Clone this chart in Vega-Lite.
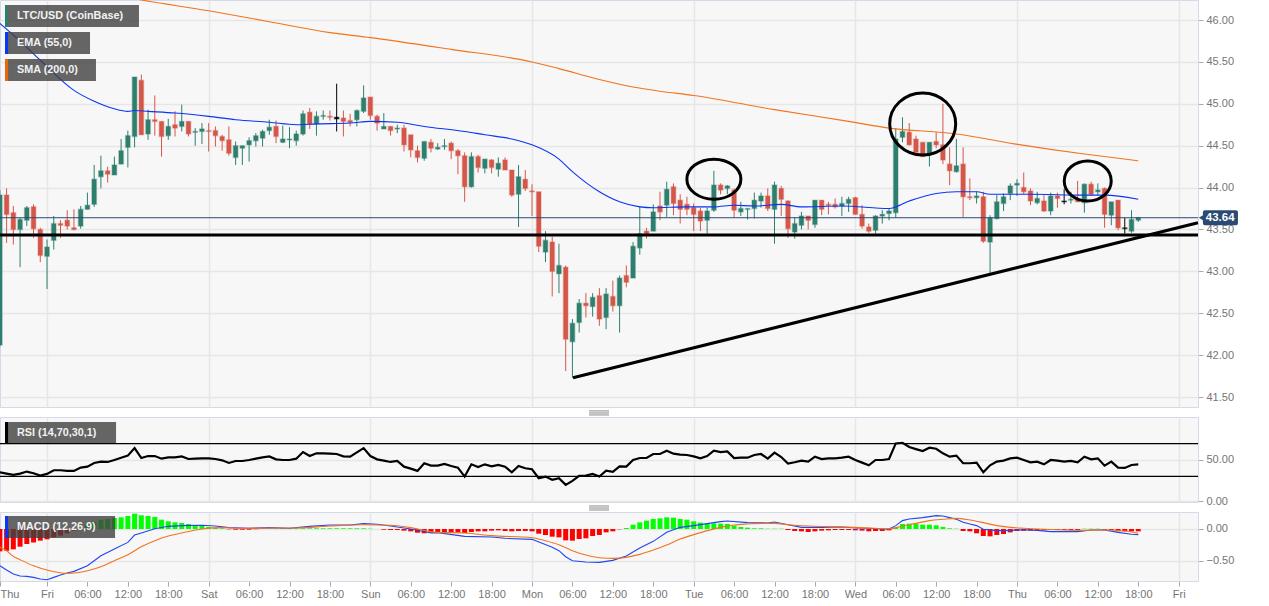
{
"$schema":"https://vega.github.io/schema/vega-lite/v6.json",
"description":"LTC/USD hourly candles with EMA, SMA, RSI and MACD panels",
"padding":{"left":-2,"top":-1,"right":0,"bottom":0},
"bounds":"flush",
"spacing":10,
"background":"white",
"config":{
"view":{"fill":"#f7f7f7","stroke":"#d5d9e8"},
"scale":{"continuousPadding":0},
"axis":{"title":null,"gridColor":"#e6e6e6","gridWidth":1.5,"tickColor":"#a8a8a8","tickSize":5,"labelPadding":3,"labelColor":"#757575","labelFont":"Liberation Sans","labelFontSize":11,"domainColor":"#d5d9e8"},
"text":{"font":"Liberation Sans"}
},
"datasets":{
"candles":[
{"t":"2018-11-15T17:00Z","o":42.12,"h":43.97,"l":42.10,"c":43.91,"d":"up","rsi":35.0,"hist":-0.353},
{"t":"2018-11-15T18:00Z","o":43.91,"h":43.99,"l":43.34,"c":43.68,"d":"down","rsi":33.4,"hist":-0.342},
{"t":"2018-11-15T19:00Z","o":43.70,"h":43.78,"l":43.32,"c":43.50,"d":"down","rsi":31.8,"hist":-0.321},
{"t":"2018-11-15T20:00Z","o":43.50,"h":43.64,"l":43.05,"c":43.62,"d":"up","rsi":33.4,"hist":-0.279},
{"t":"2018-11-15T21:00Z","o":43.61,"h":43.78,"l":43.54,"c":43.76,"d":"up","rsi":35.9,"hist":-0.237},
{"t":"2018-11-15T22:00Z","o":43.77,"h":43.80,"l":43.40,"c":43.51,"d":"down","rsi":33.8,"hist":-0.211},
{"t":"2018-11-15T23:00Z","o":43.50,"h":43.52,"l":43.11,"c":43.19,"d":"down","rsi":31.0,"hist":-0.184},
{"t":"2018-11-16T00:00Z","o":43.18,"h":43.38,"l":42.79,"c":43.29,"d":"up","rsi":33.0,"hist":-0.163},
{"t":"2018-11-16T01:00Z","o":43.37,"h":43.66,"l":43.26,"c":43.57,"d":"up","rsi":37.5,"hist":-0.132},
{"t":"2018-11-16T02:00Z","o":43.57,"h":43.61,"l":43.40,"c":43.55,"d":"down","rsi":37.5,"hist":-0.105},
{"t":"2018-11-16T03:00Z","o":43.61,"h":43.73,"l":43.50,"c":43.54,"d":"down","rsi":36.7,"hist":-0.068},
{"t":"2018-11-16T04:00Z","o":43.52,"h":43.74,"l":43.49,"c":43.50,"d":"down","rsi":36.7,"hist":-0.026},
{"t":"2018-11-16T05:00Z","o":43.54,"h":43.78,"l":43.51,"c":43.74,"d":"up","rsi":40.7,"hist":0.026},
{"t":"2018-11-16T06:00Z","o":43.74,"h":43.94,"l":43.74,"c":43.79,"d":"up","rsi":41.9,"hist":0.068},
{"t":"2018-11-16T07:00Z","o":43.80,"h":44.27,"l":43.77,"c":44.10,"d":"up","rsi":46.4,"hist":0.111},
{"t":"2018-11-16T08:00Z","o":44.13,"h":44.38,"l":43.99,"c":44.20,"d":"up","rsi":48.0,"hist":0.147},
{"t":"2018-11-16T09:00Z","o":44.20,"h":44.25,"l":44.06,"c":44.16,"d":"down","rsi":47.6,"hist":0.158},
{"t":"2018-11-16T10:00Z","o":44.15,"h":44.37,"l":44.15,"c":44.27,"d":"up","rsi":50.0,"hist":0.174},
{"t":"2018-11-16T11:00Z","o":44.28,"h":44.58,"l":44.28,"c":44.44,"d":"up","rsi":52.8,"hist":0.184},
{"t":"2018-11-16T12:00Z","o":44.48,"h":44.68,"l":44.24,"c":44.62,"d":"up","rsi":55.3,"hist":0.205},
{"t":"2018-11-16T13:00Z","o":44.61,"h":45.32,"l":44.48,"c":45.32,"d":"up","rsi":64.5,"hist":0.242},
{"t":"2018-11-16T14:00Z","o":45.28,"h":45.35,"l":44.63,"c":44.63,"d":"down","rsi":52.4,"hist":0.216},
{"t":"2018-11-16T15:00Z","o":44.64,"h":44.93,"l":44.57,"c":44.81,"d":"up","rsi":54.8,"hist":0.205},
{"t":"2018-11-16T16:00Z","o":44.81,"h":45.10,"l":44.62,"c":44.79,"d":"down","rsi":54.8,"hist":0.189},
{"t":"2018-11-16T17:00Z","o":44.79,"h":44.79,"l":44.37,"c":44.61,"d":"down","rsi":51.6,"hist":0.147},
{"t":"2018-11-16T18:00Z","o":44.62,"h":44.82,"l":44.57,"c":44.73,"d":"up","rsi":53.2,"hist":0.121},
{"t":"2018-11-16T19:00Z","o":44.75,"h":44.91,"l":44.61,"c":44.71,"d":"down","rsi":53.2,"hist":0.105},
{"t":"2018-11-16T20:00Z","o":44.73,"h":44.99,"l":44.67,"c":44.79,"d":"up","rsi":54.4,"hist":0.095},
{"t":"2018-11-16T21:00Z","o":44.79,"h":44.79,"l":44.61,"c":44.64,"d":"down","rsi":51.2,"hist":0.079},
{"t":"2018-11-16T22:00Z","o":44.66,"h":44.71,"l":44.50,"c":44.67,"d":"up","rsi":51.6,"hist":0.058},
{"t":"2018-11-16T23:00Z","o":44.67,"h":44.77,"l":44.52,"c":44.70,"d":"up","rsi":52.0,"hist":0.047},
{"t":"2018-11-17T00:00Z","o":44.68,"h":44.77,"l":44.43,"c":44.67,"d":"down","rsi":52.0,"hist":0.032},
{"t":"2018-11-17T01:00Z","o":44.68,"h":44.73,"l":44.49,"c":44.62,"d":"down","rsi":51.2,"hist":0.016},
{"t":"2018-11-17T02:00Z","o":44.61,"h":44.63,"l":44.44,"c":44.56,"d":"down","rsi":49.6,"hist":0.011},
{"t":"2018-11-17T03:00Z","o":44.57,"h":44.73,"l":44.38,"c":44.41,"d":"down","rsi":46.4,"hist":-0.005},
{"t":"2018-11-17T04:00Z","o":44.36,"h":44.55,"l":44.27,"c":44.50,"d":"up","rsi":48.8,"hist":-0.011},
{"t":"2018-11-17T05:00Z","o":44.47,"h":44.50,"l":44.27,"c":44.50,"d":"up","rsi":48.8,"hist":-0.011},
{"t":"2018-11-17T06:00Z","o":44.51,"h":44.60,"l":44.31,"c":44.56,"d":"up","rsi":50.0,"hist":-0.011},
{"t":"2018-11-17T07:00Z","o":44.56,"h":44.65,"l":44.49,"c":44.62,"d":"up","rsi":51.6,"hist":-0.005},
{"t":"2018-11-17T08:00Z","o":44.59,"h":44.69,"l":44.49,"c":44.67,"d":"up","rsi":53.2,"hist":0.005},
{"t":"2018-11-17T09:00Z","o":44.68,"h":44.81,"l":44.63,"c":44.72,"d":"up","rsi":54.4,"hist":0.005},
{"t":"2018-11-17T10:00Z","o":44.73,"h":44.80,"l":44.53,"c":44.61,"d":"down","rsi":50.8,"hist":0.005},
{"t":"2018-11-17T11:00Z","o":44.54,"h":44.74,"l":44.53,"c":44.58,"d":"up","rsi":50.0,"hist":0.011},
{"t":"2018-11-17T12:00Z","o":44.57,"h":44.72,"l":44.47,"c":44.58,"d":"up","rsi":50.0,"hist":0.011},
{"t":"2018-11-17T13:00Z","o":44.56,"h":44.68,"l":44.50,"c":44.64,"d":"up","rsi":51.6,"hist":0.011},
{"t":"2018-11-17T14:00Z","o":44.64,"h":44.92,"l":44.62,"c":44.88,"d":"up","rsi":59.7,"hist":0.011},
{"t":"2018-11-17T15:00Z","o":44.90,"h":44.95,"l":44.70,"c":44.76,"d":"down","rsi":54.8,"hist":0.011},
{"t":"2018-11-17T16:00Z","o":44.76,"h":44.91,"l":44.62,"c":44.85,"d":"up","rsi":58.1,"hist":0.011},
{"t":"2018-11-17T17:00Z","o":44.85,"h":44.92,"l":44.81,"c":44.86,"d":"up","rsi":58.1,"hist":0.011},
{"t":"2018-11-17T18:00Z","o":44.85,"h":44.92,"l":44.80,"c":44.84,"d":"down","rsi":57.7,"hist":0.011},
{"t":"2018-11-17T19:00Z","o":44.84,"h":45.24,"l":44.67,"c":44.82,"d":"doji","rsi":57.3,"hist":0.011},
{"t":"2018-11-17T20:00Z","o":44.83,"h":44.92,"l":44.61,"c":44.79,"d":"down","rsi":54.4,"hist":0.011},
{"t":"2018-11-17T21:00Z","o":44.80,"h":44.88,"l":44.73,"c":44.78,"d":"down","rsi":54.0,"hist":0.011},
{"t":"2018-11-17T22:00Z","o":44.81,"h":44.93,"l":44.73,"c":44.92,"d":"up","rsi":59.3,"hist":0.011},
{"t":"2018-11-17T23:00Z","o":44.91,"h":45.22,"l":44.89,"c":45.07,"d":"up","rsi":64.5,"hist":0.011},
{"t":"2018-11-18T00:00Z","o":45.08,"h":45.08,"l":44.81,"c":44.86,"d":"down","rsi":54.8,"hist":0.005},
{"t":"2018-11-18T01:00Z","o":44.85,"h":44.87,"l":44.68,"c":44.77,"d":"down","rsi":50.8,"hist":0.0},
{"t":"2018-11-18T02:00Z","o":44.70,"h":44.89,"l":44.70,"c":44.73,"d":"up","rsi":49.2,"hist":-0.011},
{"t":"2018-11-18T03:00Z","o":44.73,"h":44.73,"l":44.62,"c":44.68,"d":"down","rsi":47.6,"hist":-0.016},
{"t":"2018-11-18T04:00Z","o":44.70,"h":44.75,"l":44.65,"c":44.71,"d":"up","rsi":48.8,"hist":-0.016},
{"t":"2018-11-18T05:00Z","o":44.71,"h":44.75,"l":44.43,"c":44.51,"d":"down","rsi":41.9,"hist":-0.026},
{"t":"2018-11-18T06:00Z","o":44.63,"h":44.63,"l":44.36,"c":44.45,"d":"down","rsi":39.5,"hist":-0.037},
{"t":"2018-11-18T07:00Z","o":44.44,"h":44.50,"l":44.30,"c":44.36,"d":"down","rsi":36.7,"hist":-0.058},
{"t":"2018-11-18T08:00Z","o":44.35,"h":44.55,"l":44.32,"c":44.55,"d":"up","rsi":46.0,"hist":-0.068},
{"t":"2018-11-18T09:00Z","o":44.54,"h":44.58,"l":44.42,"c":44.47,"d":"down","rsi":43.1,"hist":-0.058},
{"t":"2018-11-18T10:00Z","o":44.46,"h":44.53,"l":44.45,"c":44.48,"d":"up","rsi":43.1,"hist":-0.047},
{"t":"2018-11-18T11:00Z","o":44.49,"h":44.58,"l":44.45,"c":44.50,"d":"up","rsi":45.2,"hist":-0.047},
{"t":"2018-11-18T12:00Z","o":44.53,"h":44.55,"l":44.34,"c":44.44,"d":"down","rsi":42.7,"hist":-0.053},
{"t":"2018-11-18T13:00Z","o":44.44,"h":44.46,"l":44.16,"c":44.38,"d":"down","rsi":40.7,"hist":-0.053},
{"t":"2018-11-18T14:00Z","o":44.38,"h":44.42,"l":43.83,"c":44.01,"d":"down","rsi":29.8,"hist":-0.063},
{"t":"2018-11-18T15:00Z","o":44.01,"h":44.42,"l":44.00,"c":44.37,"d":"up","rsi":44.7,"hist":-0.047},
{"t":"2018-11-18T16:00Z","o":44.37,"h":44.39,"l":44.18,"c":44.24,"d":"down","rsi":41.5,"hist":-0.037},
{"t":"2018-11-18T17:00Z","o":44.23,"h":44.34,"l":44.17,"c":44.34,"d":"up","rsi":44.7,"hist":-0.037},
{"t":"2018-11-18T18:00Z","o":44.33,"h":44.34,"l":44.17,"c":44.24,"d":"down","rsi":42.3,"hist":-0.026},
{"t":"2018-11-18T19:00Z","o":44.22,"h":44.36,"l":44.13,"c":44.29,"d":"up","rsi":43.9,"hist":-0.021},
{"t":"2018-11-18T20:00Z","o":44.33,"h":44.36,"l":44.21,"c":44.21,"d":"down","rsi":41.9,"hist":-0.032},
{"t":"2018-11-18T21:00Z","o":44.21,"h":44.21,"l":43.89,"c":43.91,"d":"down","rsi":35.0,"hist":-0.037},
{"t":"2018-11-18T22:00Z","o":43.92,"h":44.27,"l":43.53,"c":44.13,"d":"up","rsi":42.7,"hist":-0.032},
{"t":"2018-11-18T23:00Z","o":44.10,"h":44.21,"l":43.96,"c":43.99,"d":"down","rsi":39.9,"hist":-0.032},
{"t":"2018-11-19T00:00Z","o":43.96,"h":44.04,"l":43.66,"c":43.95,"d":"down","rsi":38.7,"hist":-0.037},
{"t":"2018-11-19T01:00Z","o":43.95,"h":43.95,"l":43.23,"c":43.30,"d":"down","rsi":27.8,"hist":-0.074},
{"t":"2018-11-19T02:00Z","o":43.23,"h":43.48,"l":43.11,"c":43.37,"d":"up","rsi":29.8,"hist":-0.095},
{"t":"2018-11-19T03:00Z","o":43.35,"h":43.41,"l":42.70,"c":43.00,"d":"down","rsi":25.8,"hist":-0.121},
{"t":"2018-11-19T04:00Z","o":42.97,"h":43.33,"l":42.74,"c":43.07,"d":"up","rsi":27.8,"hist":-0.132},
{"t":"2018-11-19T05:00Z","o":43.05,"h":43.07,"l":41.81,"c":42.19,"d":"down","rsi":19.7,"hist":-0.179},
{"t":"2018-11-19T06:00Z","o":42.16,"h":42.43,"l":41.73,"c":42.38,"d":"up","rsi":24.5,"hist":-0.184},
{"t":"2018-11-19T07:00Z","o":42.39,"h":42.67,"l":42.27,"c":42.62,"d":"up","rsi":30.6,"hist":-0.158},
{"t":"2018-11-19T08:00Z","o":42.62,"h":42.74,"l":42.45,"c":42.59,"d":"down","rsi":31.0,"hist":-0.147},
{"t":"2018-11-19T09:00Z","o":42.58,"h":42.74,"l":42.46,"c":42.69,"d":"up","rsi":33.0,"hist":-0.111},
{"t":"2018-11-19T10:00Z","o":42.71,"h":42.80,"l":42.35,"c":42.43,"d":"down","rsi":29.8,"hist":-0.095},
{"t":"2018-11-19T11:00Z","o":42.45,"h":42.80,"l":42.31,"c":42.73,"d":"up","rsi":37.1,"hist":-0.053},
{"t":"2018-11-19T12:00Z","o":42.70,"h":42.89,"l":42.52,"c":42.59,"d":"down","rsi":35.5,"hist":-0.037},
{"t":"2018-11-19T13:00Z","o":42.59,"h":42.95,"l":42.27,"c":42.92,"d":"up","rsi":42.3,"hist":-0.005},
{"t":"2018-11-19T14:00Z","o":42.95,"h":43.07,"l":42.81,"c":42.87,"d":"down","rsi":41.9,"hist":0.016},
{"t":"2018-11-19T15:00Z","o":42.92,"h":43.35,"l":42.92,"c":43.30,"d":"up","rsi":50.0,"hist":0.068},
{"t":"2018-11-19T16:00Z","o":43.28,"h":43.78,"l":43.20,"c":43.45,"d":"up","rsi":52.4,"hist":0.105},
{"t":"2018-11-19T17:00Z","o":43.48,"h":43.52,"l":43.39,"c":43.45,"d":"down","rsi":52.4,"hist":0.132},
{"t":"2018-11-19T18:00Z","o":43.48,"h":43.80,"l":43.48,"c":43.71,"d":"up","rsi":57.3,"hist":0.158},
{"t":"2018-11-19T19:00Z","o":43.78,"h":43.95,"l":43.61,"c":43.71,"d":"down","rsi":57.3,"hist":0.168},
{"t":"2018-11-19T20:00Z","o":43.79,"h":44.07,"l":43.65,"c":43.98,"d":"up","rsi":61.3,"hist":0.184},
{"t":"2018-11-19T21:00Z","o":44.01,"h":44.05,"l":43.67,"c":43.81,"d":"down","rsi":57.7,"hist":0.179},
{"t":"2018-11-19T22:00Z","o":43.85,"h":43.92,"l":43.57,"c":43.74,"d":"down","rsi":56.5,"hist":0.158},
{"t":"2018-11-19T23:00Z","o":43.80,"h":43.89,"l":43.67,"c":43.74,"d":"down","rsi":56.1,"hist":0.147},
{"t":"2018-11-20T00:00Z","o":43.76,"h":43.81,"l":43.48,"c":43.68,"d":"down","rsi":54.4,"hist":0.121},
{"t":"2018-11-20T01:00Z","o":43.72,"h":43.76,"l":43.48,"c":43.60,"d":"down","rsi":52.0,"hist":0.100},
{"t":"2018-11-20T02:00Z","o":43.61,"h":43.76,"l":43.45,"c":43.72,"d":"up","rsi":54.8,"hist":0.084},
{"t":"2018-11-20T03:00Z","o":43.73,"h":44.20,"l":43.71,"c":44.03,"d":"up","rsi":61.3,"hist":0.089},
{"t":"2018-11-20T04:00Z","o":44.03,"h":44.05,"l":43.92,"c":43.97,"d":"down","rsi":59.7,"hist":0.084},
{"t":"2018-11-20T05:00Z","o":43.99,"h":44.03,"l":43.92,"c":44.02,"d":"up","rsi":60.5,"hist":0.079},
{"t":"2018-11-20T06:00Z","o":43.97,"h":43.99,"l":43.64,"c":43.73,"d":"down","rsi":52.4,"hist":0.053},
{"t":"2018-11-20T07:00Z","o":43.71,"h":43.83,"l":43.66,"c":43.75,"d":"up","rsi":52.8,"hist":0.032},
{"t":"2018-11-20T08:00Z","o":43.74,"h":43.75,"l":43.62,"c":43.75,"d":"up","rsi":52.8,"hist":0.021},
{"t":"2018-11-20T09:00Z","o":43.75,"h":43.94,"l":43.63,"c":43.85,"d":"up","rsi":56.1,"hist":0.011},
{"t":"2018-11-20T10:00Z","o":43.84,"h":43.94,"l":43.76,"c":43.90,"d":"up","rsi":57.3,"hist":0.011},
{"t":"2018-11-20T11:00Z","o":43.90,"h":43.99,"l":43.72,"c":43.75,"d":"down","rsi":51.6,"hist":0.005},
{"t":"2018-11-20T12:00Z","o":43.74,"h":44.07,"l":43.33,"c":44.03,"d":"up","rsi":58.9,"hist":0.005},
{"t":"2018-11-20T13:00Z","o":43.99,"h":44.02,"l":43.66,"c":43.86,"d":"down","rsi":53.6,"hist":0.005},
{"t":"2018-11-20T14:00Z","o":43.84,"h":43.85,"l":43.40,"c":43.51,"d":"down","rsi":45.6,"hist":-0.016},
{"t":"2018-11-20T15:00Z","o":43.47,"h":43.65,"l":43.39,"c":43.57,"d":"up","rsi":47.2,"hist":-0.032},
{"t":"2018-11-20T16:00Z","o":43.55,"h":43.71,"l":43.50,"c":43.66,"d":"up","rsi":49.2,"hist":-0.037},
{"t":"2018-11-20T17:00Z","o":43.66,"h":43.66,"l":43.50,"c":43.61,"d":"down","rsi":48.0,"hist":-0.047},
{"t":"2018-11-20T18:00Z","o":43.56,"h":43.85,"l":43.52,"c":43.85,"d":"up","rsi":54.0,"hist":-0.037},
{"t":"2018-11-20T19:00Z","o":43.85,"h":43.85,"l":43.67,"c":43.74,"d":"down","rsi":51.2,"hist":-0.026},
{"t":"2018-11-20T20:00Z","o":43.80,"h":43.83,"l":43.68,"c":43.79,"d":"down","rsi":52.0,"hist":-0.021},
{"t":"2018-11-20T21:00Z","o":43.80,"h":43.87,"l":43.75,"c":43.77,"d":"down","rsi":52.0,"hist":-0.016},
{"t":"2018-11-20T22:00Z","o":43.78,"h":43.89,"l":43.66,"c":43.81,"d":"up","rsi":52.8,"hist":-0.016},
{"t":"2018-11-20T23:00Z","o":43.81,"h":43.89,"l":43.71,"c":43.86,"d":"up","rsi":54.0,"hist":-0.016},
{"t":"2018-11-21T00:00Z","o":43.88,"h":43.89,"l":43.68,"c":43.68,"d":"down","rsi":50.0,"hist":-0.021},
{"t":"2018-11-21T01:00Z","o":43.68,"h":43.79,"l":43.51,"c":43.54,"d":"down","rsi":46.8,"hist":-0.026},
{"t":"2018-11-21T02:00Z","o":43.53,"h":43.57,"l":43.46,"c":43.48,"d":"down","rsi":43.5,"hist":-0.037},
{"t":"2018-11-21T03:00Z","o":43.49,"h":43.67,"l":43.45,"c":43.66,"d":"up","rsi":50.0,"hist":-0.032},
{"t":"2018-11-21T04:00Z","o":43.66,"h":43.73,"l":43.57,"c":43.68,"d":"up","rsi":50.0,"hist":-0.032},
{"t":"2018-11-21T05:00Z","o":43.69,"h":43.75,"l":43.61,"c":43.72,"d":"up","rsi":51.2,"hist":-0.021},
{"t":"2018-11-21T06:00Z","o":43.70,"h":44.71,"l":43.64,"c":44.58,"d":"up","rsi":70.2,"hist":0.026},
{"t":"2018-11-21T07:00Z","o":44.60,"h":44.84,"l":44.54,"c":44.67,"d":"up","rsi":71.0,"hist":0.079},
{"t":"2018-11-21T08:00Z","o":44.66,"h":44.77,"l":44.50,"c":44.51,"d":"down","rsi":65.8,"hist":0.084},
{"t":"2018-11-21T09:00Z","o":44.58,"h":44.62,"l":44.42,"c":44.42,"d":"down","rsi":63.3,"hist":0.084},
{"t":"2018-11-21T10:00Z","o":44.54,"h":44.54,"l":44.37,"c":44.37,"d":"down","rsi":60.9,"hist":0.068},
{"t":"2018-11-21T11:00Z","o":44.40,"h":44.54,"l":44.25,"c":44.54,"d":"up","rsi":65.0,"hist":0.068},
{"t":"2018-11-21T12:00Z","o":44.55,"h":44.66,"l":44.47,"c":44.51,"d":"down","rsi":63.7,"hist":0.058},
{"t":"2018-11-21T13:00Z","o":44.51,"h":45.00,"l":44.28,"c":44.33,"d":"down","rsi":58.1,"hist":0.032},
{"t":"2018-11-21T14:00Z","o":44.28,"h":44.48,"l":44.03,"c":44.20,"d":"down","rsi":54.0,"hist":0.011},
{"t":"2018-11-21T15:00Z","o":44.19,"h":44.58,"l":44.18,"c":44.26,"d":"up","rsi":55.3,"hist":0.005},
{"t":"2018-11-21T16:00Z","o":44.28,"h":44.48,"l":43.65,"c":43.89,"d":"down","rsi":46.0,"hist":-0.032},
{"t":"2018-11-21T17:00Z","o":43.89,"h":44.11,"l":43.85,"c":43.88,"d":"down","rsi":46.0,"hist":-0.037},
{"t":"2018-11-21T18:00Z","o":43.88,"h":43.95,"l":43.81,"c":43.90,"d":"up","rsi":46.8,"hist":-0.068},
{"t":"2018-11-21T19:00Z","o":43.89,"h":43.95,"l":43.34,"c":43.36,"d":"down","rsi":35.0,"hist":-0.111},
{"t":"2018-11-21T20:00Z","o":43.35,"h":43.67,"l":42.98,"c":43.64,"d":"up","rsi":43.5,"hist":-0.116},
{"t":"2018-11-21T21:00Z","o":43.63,"h":43.91,"l":43.62,"c":43.83,"d":"up","rsi":48.0,"hist":-0.095},
{"t":"2018-11-21T22:00Z","o":43.81,"h":43.93,"l":43.72,"c":43.89,"d":"up","rsi":49.2,"hist":-0.079},
{"t":"2018-11-21T23:00Z","o":43.93,"h":44.05,"l":43.85,"c":44.02,"d":"up","rsi":52.0,"hist":-0.053},
{"t":"2018-11-22T00:00Z","o":44.03,"h":44.10,"l":43.90,"c":44.05,"d":"up","rsi":52.8,"hist":-0.032},
{"t":"2018-11-22T01:00Z","o":44.00,"h":44.18,"l":43.92,"c":43.95,"d":"down","rsi":50.0,"hist":-0.026},
{"t":"2018-11-22T02:00Z","o":43.96,"h":43.99,"l":43.79,"c":43.84,"d":"down","rsi":47.2,"hist":-0.026},
{"t":"2018-11-22T03:00Z","o":43.82,"h":43.95,"l":43.80,"c":43.87,"d":"up","rsi":48.0,"hist":-0.026},
{"t":"2018-11-22T04:00Z","o":43.84,"h":43.91,"l":43.71,"c":43.72,"d":"down","rsi":44.7,"hist":-0.021},
{"t":"2018-11-22T05:00Z","o":43.72,"h":43.94,"l":43.67,"c":43.90,"d":"up","rsi":50.0,"hist":-0.016},
{"t":"2018-11-22T06:00Z","o":43.90,"h":43.94,"l":43.76,"c":43.87,"d":"down","rsi":49.2,"hist":-0.016},
{"t":"2018-11-22T07:00Z","o":43.84,"h":43.98,"l":43.80,"c":43.83,"d":"doji","rsi":48.0,"hist":-0.016},
{"t":"2018-11-22T08:00Z","o":43.85,"h":43.95,"l":43.81,"c":43.86,"d":"up","rsi":48.8,"hist":-0.016},
{"t":"2018-11-22T09:00Z","o":43.86,"h":44.08,"l":43.83,"c":43.83,"d":"down","rsi":47.2,"hist":-0.016},
{"t":"2018-11-22T10:00Z","o":43.82,"h":44.05,"l":43.70,"c":44.04,"d":"up","rsi":54.0,"hist":0.005},
{"t":"2018-11-22T11:00Z","o":44.04,"h":44.07,"l":43.90,"c":43.92,"d":"down","rsi":50.8,"hist":0.005},
{"t":"2018-11-22T12:00Z","o":43.95,"h":44.05,"l":43.91,"c":43.97,"d":"up","rsi":52.0,"hist":0.005},
{"t":"2018-11-22T13:00Z","o":43.99,"h":44.00,"l":43.52,"c":43.68,"d":"down","rsi":43.1,"hist":-0.011},
{"t":"2018-11-22T14:00Z","o":43.67,"h":43.83,"l":43.55,"c":43.83,"d":"up","rsi":48.0,"hist":-0.016},
{"t":"2018-11-22T15:00Z","o":43.85,"h":43.85,"l":43.49,"c":43.52,"d":"down","rsi":40.7,"hist":-0.037},
{"t":"2018-11-22T16:00Z","o":43.52,"h":43.64,"l":43.45,"c":43.51,"d":"doji","rsi":40.3,"hist":-0.037},
{"t":"2018-11-22T17:00Z","o":43.48,"h":43.73,"l":43.46,"c":43.62,"d":"up","rsi":43.9,"hist":-0.037},
{"t":"2018-11-22T18:00Z","o":43.61,"h":43.65,"l":43.59,"c":43.64,"d":"up","rsi":44.7,"hist":-0.037}
],
"averages":[
{"t":"2018-11-15T17:00Z","series":"EMA","v":45.96},{"t":"2018-11-15T20:00Z","series":"EMA","v":45.75},{"t":"2018-11-15T23:00Z","series":"EMA","v":45.52},{"t":"2018-11-16T04:00Z","series":"EMA","v":45.16},{"t":"2018-11-16T07:00Z","series":"EMA","v":45.03},{"t":"2018-11-16T10:00Z","series":"EMA","v":44.94},{"t":"2018-11-16T12:00Z","series":"EMA","v":44.91},{"t":"2018-11-16T13:00Z","series":"EMA","v":44.92},{"t":"2018-11-16T15:00Z","series":"EMA","v":44.91},{"t":"2018-11-16T19:00Z","series":"EMA","v":44.89},{"t":"2018-11-17T00:00Z","series":"EMA","v":44.85},{"t":"2018-11-17T04:00Z","series":"EMA","v":44.81},{"t":"2018-11-17T09:00Z","series":"EMA","v":44.78},{"t":"2018-11-17T13:00Z","series":"EMA","v":44.75},{"t":"2018-11-17T16:00Z","series":"EMA","v":44.76},{"t":"2018-11-17T21:00Z","series":"EMA","v":44.77},{"t":"2018-11-18T00:00Z","series":"EMA","v":44.79},{"t":"2018-11-18T04:00Z","series":"EMA","v":44.78},{"t":"2018-11-18T08:00Z","series":"EMA","v":44.73},{"t":"2018-11-18T14:00Z","series":"EMA","v":44.67},{"t":"2018-11-18T17:00Z","series":"EMA","v":44.63},{"t":"2018-11-18T21:00Z","series":"EMA","v":44.58},{"t":"2018-11-19T00:00Z","series":"EMA","v":44.51},{"t":"2018-11-19T04:00Z","series":"EMA","v":44.34},{"t":"2018-11-19T06:00Z","series":"EMA","v":44.19},{"t":"2018-11-19T10:00Z","series":"EMA","v":43.95},{"t":"2018-11-19T13:00Z","series":"EMA","v":43.83},{"t":"2018-11-19T16:00Z","series":"EMA","v":43.77},{"t":"2018-11-19T18:00Z","series":"EMA","v":43.76},{"t":"2018-11-19T23:00Z","series":"EMA","v":43.77},{"t":"2018-11-20T03:00Z","series":"EMA","v":43.77},{"t":"2018-11-20T06:00Z","series":"EMA","v":43.79},{"t":"2018-11-20T09:00Z","series":"EMA","v":43.78},{"t":"2018-11-20T13:00Z","series":"EMA","v":43.80},{"t":"2018-11-20T16:00Z","series":"EMA","v":43.77},{"t":"2018-11-20T22:00Z","series":"EMA","v":43.78},{"t":"2018-11-21T05:00Z","series":"EMA","v":43.75},{"t":"2018-11-21T08:00Z","series":"EMA","v":43.84},{"t":"2018-11-21T12:00Z","series":"EMA","v":43.93},{"t":"2018-11-21T15:00Z","series":"EMA","v":43.95},{"t":"2018-11-21T18:00Z","series":"EMA","v":43.95},{"t":"2018-11-21T20:00Z","series":"EMA","v":43.92},{"t":"2018-11-22T02:00Z","series":"EMA","v":43.92},{"t":"2018-11-22T10:00Z","series":"EMA","v":43.91},{"t":"2018-11-22T13:00Z","series":"EMA","v":43.91},{"t":"2018-11-22T18:00Z","series":"EMA","v":43.86},
{"t":"2018-11-16T10:00Z","series":"SMA","v":46.30},{"t":"2018-11-16T14:00Z","series":"SMA","v":46.24},{"t":"2018-11-17T00:00Z","series":"SMA","v":46.11},{"t":"2018-11-17T09:00Z","series":"SMA","v":45.98},{"t":"2018-11-17T18:00Z","series":"SMA","v":45.85},{"t":"2018-11-18T00:00Z","series":"SMA","v":45.79},{"t":"2018-11-18T12:00Z","series":"SMA","v":45.65},{"t":"2018-11-19T00:00Z","series":"SMA","v":45.50},{"t":"2018-11-19T04:00Z","series":"SMA","v":45.42},{"t":"2018-11-19T10:00Z","series":"SMA","v":45.29},{"t":"2018-11-19T15:00Z","series":"SMA","v":45.20},{"t":"2018-11-19T19:00Z","series":"SMA","v":45.15},{"t":"2018-11-20T00:00Z","series":"SMA","v":45.10},{"t":"2018-11-20T12:00Z","series":"SMA","v":44.93},{"t":"2018-11-20T23:00Z","series":"SMA","v":44.79},{"t":"2018-11-21T05:00Z","series":"SMA","v":44.71},{"t":"2018-11-21T15:00Z","series":"SMA","v":44.64},{"t":"2018-11-21T23:00Z","series":"SMA","v":44.53},{"t":"2018-11-22T10:00Z","series":"SMA","v":44.40},{"t":"2018-11-22T18:00Z","series":"SMA","v":44.32}
],
"macdLines":[
{"t":"2018-11-15T17:00Z","series":"MACD","v":-0.579},{"t":"2018-11-15T18:00Z","series":"MACD","v":-0.647},{"t":"2018-11-15T19:00Z","series":"MACD","v":-0.711},{"t":"2018-11-15T20:00Z","series":"MACD","v":-0.742},{"t":"2018-11-15T21:00Z","series":"MACD","v":-0.747},{"t":"2018-11-15T22:00Z","series":"MACD","v":-0.763},{"t":"2018-11-15T23:00Z","series":"MACD","v":-0.789},{"t":"2018-11-16T00:00Z","series":"MACD","v":-0.8},{"t":"2018-11-16T01:00Z","series":"MACD","v":-0.763},{"t":"2018-11-16T02:00Z","series":"MACD","v":-0.726},{"t":"2018-11-16T03:00Z","series":"MACD","v":-0.695},{"t":"2018-11-16T04:00Z","series":"MACD","v":-0.668},{"t":"2018-11-16T06:00Z","series":"MACD","v":-0.579},{"t":"2018-11-16T07:00Z","series":"MACD","v":-0.5},{"t":"2018-11-16T08:00Z","series":"MACD","v":-0.421},{"t":"2018-11-16T10:00Z","series":"MACD","v":-0.316},{"t":"2018-11-16T12:00Z","series":"MACD","v":-0.211},{"t":"2018-11-16T13:00Z","series":"MACD","v":-0.095},{"t":"2018-11-16T14:00Z","series":"MACD","v":-0.063},{"t":"2018-11-16T16:00Z","series":"MACD","v":0.005},{"t":"2018-11-16T18:00Z","series":"MACD","v":0.042},{"t":"2018-11-16T20:00Z","series":"MACD","v":0.053},{"t":"2018-11-16T23:00Z","series":"MACD","v":0.058},{"t":"2018-11-17T01:00Z","series":"MACD","v":0.047},{"t":"2018-11-17T03:00Z","series":"MACD","v":0.021},{"t":"2018-11-17T06:00Z","series":"MACD","v":0.011},{"t":"2018-11-17T09:00Z","series":"MACD","v":0.021},{"t":"2018-11-17T12:00Z","series":"MACD","v":0.011},{"t":"2018-11-17T15:00Z","series":"MACD","v":0.042},{"t":"2018-11-17T18:00Z","series":"MACD","v":0.063},{"t":"2018-11-17T21:00Z","series":"MACD","v":0.063},{"t":"2018-11-17T23:00Z","series":"MACD","v":0.084},{"t":"2018-11-18T01:00Z","series":"MACD","v":0.074},{"t":"2018-11-18T03:00Z","series":"MACD","v":0.047},{"t":"2018-11-18T06:00Z","series":"MACD","v":0.0},{"t":"2018-11-18T09:00Z","series":"MACD","v":-0.063},{"t":"2018-11-18T10:00Z","series":"MACD","v":-0.058},{"t":"2018-11-18T14:00Z","series":"MACD","v":-0.116},{"t":"2018-11-18T18:00Z","series":"MACD","v":-0.126},{"t":"2018-11-18T20:00Z","series":"MACD","v":-0.147},{"t":"2018-11-19T00:00Z","series":"MACD","v":-0.163},{"t":"2018-11-19T03:00Z","series":"MACD","v":-0.289},{"t":"2018-11-19T04:00Z","series":"MACD","v":-0.342},{"t":"2018-11-19T05:00Z","series":"MACD","v":-0.437},{"t":"2018-11-19T06:00Z","series":"MACD","v":-0.5},{"t":"2018-11-19T08:00Z","series":"MACD","v":-0.521},{"t":"2018-11-19T10:00Z","series":"MACD","v":-0.526},{"t":"2018-11-19T12:00Z","series":"MACD","v":-0.495},{"t":"2018-11-19T14:00Z","series":"MACD","v":-0.426},{"t":"2018-11-19T16:00Z","series":"MACD","v":-0.3},{"t":"2018-11-19T18:00Z","series":"MACD","v":-0.195},{"t":"2018-11-19T20:00Z","series":"MACD","v":-0.053},{"t":"2018-11-19T22:00Z","series":"MACD","v":0.026},{"t":"2018-11-20T00:00Z","series":"MACD","v":0.053},{"t":"2018-11-20T02:00Z","series":"MACD","v":0.084},{"t":"2018-11-20T04:00Z","series":"MACD","v":0.116},{"t":"2018-11-20T05:00Z","series":"MACD","v":0.126},{"t":"2018-11-20T08:00Z","series":"MACD","v":0.1},{"t":"2018-11-20T11:00Z","series":"MACD","v":0.095},{"t":"2018-11-20T12:00Z","series":"MACD","v":0.111},{"t":"2018-11-20T14:00Z","series":"MACD","v":0.068},{"t":"2018-11-20T16:00Z","series":"MACD","v":0.026},{"t":"2018-11-20T19:00Z","series":"MACD","v":0.026},{"t":"2018-11-20T22:00Z","series":"MACD","v":0.032},{"t":"2018-11-21T00:00Z","series":"MACD","v":0.016},{"t":"2018-11-21T02:00Z","series":"MACD","v":0.011},{"t":"2018-11-21T04:00Z","series":"MACD","v":0.0},{"t":"2018-11-21T05:00Z","series":"MACD","v":0.0},{"t":"2018-11-21T06:00Z","series":"MACD","v":0.053},{"t":"2018-11-21T07:00Z","series":"MACD","v":0.132},{"t":"2018-11-21T08:00Z","series":"MACD","v":0.158},{"t":"2018-11-21T10:00Z","series":"MACD","v":0.179},{"t":"2018-11-21T12:00Z","series":"MACD","v":0.211},{"t":"2018-11-21T13:00Z","series":"MACD","v":0.205},{"t":"2018-11-21T14:00Z","series":"MACD","v":0.179},{"t":"2018-11-21T15:00Z","series":"MACD","v":0.153},{"t":"2018-11-21T16:00Z","series":"MACD","v":0.105},{"t":"2018-11-21T17:00Z","series":"MACD","v":0.079},{"t":"2018-11-21T18:00Z","series":"MACD","v":0.053},{"t":"2018-11-21T19:00Z","series":"MACD","v":-0.005},{"t":"2018-11-21T21:00Z","series":"MACD","v":-0.026},{"t":"2018-11-21T23:00Z","series":"MACD","v":-0.021},{"t":"2018-11-22T01:00Z","series":"MACD","v":-0.011},{"t":"2018-11-22T03:00Z","series":"MACD","v":-0.021},{"t":"2018-11-22T05:00Z","series":"MACD","v":-0.042},{"t":"2018-11-22T09:00Z","series":"MACD","v":-0.042},{"t":"2018-11-22T11:00Z","series":"MACD","v":-0.016},{"t":"2018-11-22T13:00Z","series":"MACD","v":-0.016},{"t":"2018-11-22T15:00Z","series":"MACD","v":-0.053},{"t":"2018-11-22T17:00Z","series":"MACD","v":-0.084},{"t":"2018-11-22T18:00Z","series":"MACD","v":-0.089},
{"t":"2018-11-15T17:00Z","series":"Signal","v":-0.289},{"t":"2018-11-15T18:00Z","series":"Signal","v":-0.342},{"t":"2018-11-15T19:00Z","series":"Signal","v":-0.432},{"t":"2018-11-15T20:00Z","series":"Signal","v":-0.484},{"t":"2018-11-15T22:00Z","series":"Signal","v":-0.579},{"t":"2018-11-16T00:00Z","series":"Signal","v":-0.647},{"t":"2018-11-16T03:00Z","series":"Signal","v":-0.7},{"t":"2018-11-16T06:00Z","series":"Signal","v":-0.658},{"t":"2018-11-16T08:00Z","series":"Signal","v":-0.595},{"t":"2018-11-16T10:00Z","series":"Signal","v":-0.5},{"t":"2018-11-16T12:00Z","series":"Signal","v":-0.405},{"t":"2018-11-16T14:00Z","series":"Signal","v":-0.279},{"t":"2018-11-16T16:00Z","series":"Signal","v":-0.184},{"t":"2018-11-16T18:00Z","series":"Signal","v":-0.111},{"t":"2018-11-16T20:00Z","series":"Signal","v":-0.063},{"t":"2018-11-16T23:00Z","series":"Signal","v":0.0},{"t":"2018-11-17T02:00Z","series":"Signal","v":0.021},{"t":"2018-11-17T05:00Z","series":"Signal","v":0.011},{"t":"2018-11-17T09:00Z","series":"Signal","v":0.016},{"t":"2018-11-17T13:00Z","series":"Signal","v":0.016},{"t":"2018-11-17T18:00Z","series":"Signal","v":0.047},{"t":"2018-11-17T23:00Z","series":"Signal","v":0.068},{"t":"2018-11-18T03:00Z","series":"Signal","v":0.058},{"t":"2018-11-18T06:00Z","series":"Signal","v":0.021},{"t":"2018-11-18T09:00Z","series":"Signal","v":-0.042},{"t":"2018-11-18T10:00Z","series":"Signal","v":-0.053},{"t":"2018-11-18T14:00Z","series":"Signal","v":-0.063},{"t":"2018-11-18T18:00Z","series":"Signal","v":-0.105},{"t":"2018-11-19T00:00Z","series":"Signal","v":-0.137},{"t":"2018-11-19T02:00Z","series":"Signal","v":-0.184},{"t":"2018-11-19T04:00Z","series":"Signal","v":-0.247},{"t":"2018-11-19T06:00Z","series":"Signal","v":-0.342},{"t":"2018-11-19T08:00Z","series":"Signal","v":-0.411},{"t":"2018-11-19T10:00Z","series":"Signal","v":-0.453},{"t":"2018-11-19T12:00Z","series":"Signal","v":-0.463},{"t":"2018-11-19T14:00Z","series":"Signal","v":-0.447},{"t":"2018-11-19T16:00Z","series":"Signal","v":-0.4},{"t":"2018-11-19T18:00Z","series":"Signal","v":-0.332},{"t":"2018-11-19T20:00Z","series":"Signal","v":-0.253},{"t":"2018-11-19T22:00Z","series":"Signal","v":-0.158},{"t":"2018-11-20T00:00Z","series":"Signal","v":-0.089},{"t":"2018-11-20T02:00Z","series":"Signal","v":-0.026},{"t":"2018-11-20T04:00Z","series":"Signal","v":0.026},{"t":"2018-11-20T06:00Z","series":"Signal","v":0.063},{"t":"2018-11-20T08:00Z","series":"Signal","v":0.079},{"t":"2018-11-20T10:00Z","series":"Signal","v":0.089},{"t":"2018-11-20T12:00Z","series":"Signal","v":0.089},{"t":"2018-11-20T14:00Z","series":"Signal","v":0.068},{"t":"2018-11-20T17:00Z","series":"Signal","v":0.047},{"t":"2018-11-20T20:00Z","series":"Signal","v":0.037},{"t":"2018-11-21T00:00Z","series":"Signal","v":0.026},{"t":"2018-11-21T02:00Z","series":"Signal","v":0.016},{"t":"2018-11-21T04:00Z","series":"Signal","v":0.005},{"t":"2018-11-21T05:00Z","series":"Signal","v":0.005},{"t":"2018-11-21T07:00Z","series":"Signal","v":0.047},{"t":"2018-11-21T09:00Z","series":"Signal","v":0.089},{"t":"2018-11-21T11:00Z","series":"Signal","v":0.132},{"t":"2018-11-21T13:00Z","series":"Signal","v":0.153},{"t":"2018-11-21T15:00Z","series":"Signal","v":0.168},{"t":"2018-11-21T17:00Z","series":"Signal","v":0.142},{"t":"2018-11-21T19:00Z","series":"Signal","v":0.1},{"t":"2018-11-21T21:00Z","series":"Signal","v":0.053},{"t":"2018-11-21T23:00Z","series":"Signal","v":0.026},{"t":"2018-11-22T01:00Z","series":"Signal","v":0.011},{"t":"2018-11-22T04:00Z","series":"Signal","v":-0.005},{"t":"2018-11-22T07:00Z","series":"Signal","v":-0.016},{"t":"2018-11-22T10:00Z","series":"Signal","v":-0.021},{"t":"2018-11-22T13:00Z","series":"Signal","v":-0.016},{"t":"2018-11-22T16:00Z","series":"Signal","v":-0.032},{"t":"2018-11-22T18:00Z","series":"Signal","v":-0.068}
],
"tags":[
{"panel":"price","label":"LTC/USD (CoinBase)","from":"2018-11-15T17:46Z","band":"2018-11-15T18:13Z","at":"2018-11-15T19:33Z","to":"2018-11-16T13:39Z","top":46.18,"bottom":45.916,"mid":46.05},
{"panel":"price","label":"EMA (55,0)","from":"2018-11-15T17:46Z","band":"2018-11-15T18:13Z","at":"2018-11-15T19:33Z","to":"2018-11-16T06:23Z","top":45.857,"bottom":45.594,"mid":45.725},
{"panel":"price","label":"SMA (200,0)","from":"2018-11-15T17:46Z","band":"2018-11-15T18:13Z","at":"2018-11-15T19:33Z","to":"2018-11-16T07:16Z","top":45.534,"bottom":45.272,"mid":45.403},
{"panel":"rsi","label":"RSI (14,70,30,1)","from":"2018-11-15T17:46Z","band":"2018-11-15T18:13Z","at":"2018-11-15T19:33Z","to":"2018-11-16T10:15Z","top":96.3,"bottom":70.7,"mid":83.5},
{"panel":"macd","label":"MACD (12,26,9)","from":"2018-11-15T17:46Z","band":"2018-11-15T18:13Z","at":"2018-11-15T19:33Z","to":"2018-11-16T10:06Z","top":0.205,"bottom":-0.142,"mid":0.031}
],
"grips":[
{"panel":"rsi","from":"2018-11-19T08:28Z","to":"2018-11-19T11:26Z","level":109.8},
{"panel":"rsi","from":"2018-11-19T08:28Z","to":"2018-11-19T11:26Z","level":107.3},
{"panel":"rsi","from":"2018-11-19T08:28Z","to":"2018-11-19T11:26Z","level":104.9},
{"panel":"macd","from":"2018-11-19T08:28Z","to":"2018-11-19T11:26Z","level":0.363},
{"panel":"macd","from":"2018-11-19T08:28Z","to":"2018-11-19T11:26Z","level":0.331},
{"panel":"macd","from":"2018-11-19T08:28Z","to":"2018-11-19T11:26Z","level":0.30}
]
},
"vconcat":[
{
"width":1198,"height":407,
"layer":[
{"data":{"name":"candles"},"mark":{"type":"rule","strokeWidth":1,"clip":true},
"encoding":{
"x":{"field":"t","type":"temporal","scale":{"type":"utc","domain":[1542301272000,1542941532000]},"axis":{"labels":false,"ticks":false,"domain":false,"values":[1542326400000,1542412800000,1542499200000,1542585600000,1542672000000,1542758400000,1542844800000,1542931200000]}},
"y":{"field":"l","type":"quantitative","scale":{"domain":[41.381,46.239]},"axis":{"orient":"right","values":[41.5,42,42.5,43,43.5,44,44.5,45,45.5,46],"format":".2f"}},
"y2":{"field":"h"},
"color":{"field":"d","type":"nominal","scale":{"domain":["up","down","doji"],"range":["#2e7f6d","#d4574a","#000000"]},"legend":null}}},
{"data":{"name":"candles"},"mark":{"type":"bar","size":4.5,"strokeWidth":1.5,"strokeOpacity":0.3,"clip":true},
"encoding":{
"x":{"field":"t","type":"temporal","scale":{"type":"utc","domain":[1542301272000,1542941532000]}},
"y":{"field":"o","type":"quantitative","scale":{"domain":[41.381,46.239]}},
"y2":{"field":"c"},
"color":{"field":"d","type":"nominal","scale":{"domain":["up","down","doji"],"range":["#2e7f6d","#d4574a","#000000"]},"legend":null},
"stroke":{"field":"d","type":"nominal","scale":{"domain":["up","down","doji"],"range":["#2e7f6d","#d4574a","#000000"]},"legend":null}}},
{"data":{"name":"averages"},"transform":[{"filter":"datum.series=='EMA'"}],"mark":{"type":"line","strokeWidth":1.1,"interpolate":"monotone","clip":true,"color":"#0a35f5"},
"encoding":{
"x":{"field":"t","type":"temporal","scale":{"type":"utc","domain":[1542301272000,1542941532000]}},
"y":{"field":"v","type":"quantitative","scale":{"domain":[41.381,46.239]}}}},
{"data":{"name":"averages"},"transform":[{"filter":"datum.series=='SMA'"}],"mark":{"type":"line","strokeWidth":1.1,"interpolate":"monotone","clip":true,"color":"#f0741e"},
"encoding":{
"x":{"field":"t","type":"temporal","scale":{"type":"utc","domain":[1542301272000,1542941532000]}},
"y":{"field":"v","type":"quantitative","scale":{"domain":[41.381,46.239]}}}},
{"data":{"values":[{"level":43.64}]},"mark":{"type":"rule","strokeWidth":1,"color":"#2b4a73"},"encoding":{"y":{"field":"level","type":"quantitative","scale":{"domain":[41.381,46.239]}}}},
{"data":{"values":[{"level":43.434}]},"mark":{"type":"rule","strokeWidth":3,"color":"#000000"},"encoding":{"y":{"field":"level","type":"quantitative","scale":{"domain":[41.381,46.239]}}}},
{"data":{"values":[{"t":"2018-11-19T06:05Z","p":41.73},{"t":"2018-11-23T02:52Z","p":43.58}]},"mark":{"type":"line","strokeWidth":3.2,"color":"#000000"},
"encoding":{"x":{"field":"t","type":"temporal","scale":{"type":"utc","domain":[1542301272000,1542941532000]}},"y":{"field":"p","type":"quantitative","scale":{"domain":[41.381,46.239]}}}},
{"data":{"values":[{"t":"2018-11-20T03:00Z","p":44.10,"ring":"a"},{"t":"2018-11-21T10:00Z","p":44.76,"ring":"b"},{"t":"2018-11-22T10:30Z","p":44.08,"ring":"c"}]},"mark":{"type":"point","filled":false,"size":4,"strokeWidth":3,"color":"#000000","opacity":1},
"encoding":{"x":{"field":"t","type":"temporal","scale":{"type":"utc","domain":[1542301272000,1542941532000]}},"y":{"field":"p","type":"quantitative","scale":{"domain":[41.381,46.239]}},
"shape":{"field":"ring","type":"nominal","scale":{"domain":["a","b","c"],"range":["M-27,0A27,20 0 1 0 27,0A27,20 0 1 0 -27,0Z","M-33,0A33,31 0 1 0 33,0A33,31 0 1 0 -33,0Z","M-23.5,0A23.5,20 0 1 0 23.5,0A23.5,20 0 1 0 -23.5,0Z"]},"legend":null}}},
{"data":{"name":"tags"},"transform":[{"filter":"datum.panel=='price'"}],"mark":{"type":"rect","fill":"#404040","opacity":0.8},
"encoding":{"x":{"field":"from","type":"temporal","scale":{"type":"utc","domain":[1542301272000,1542941532000]}},"x2":{"field":"to"},"y":{"field":"top","type":"quantitative","scale":{"domain":[41.381,46.239]}},"y2":{"field":"bottom"}}},
{"data":{"name":"tags"},"transform":[{"filter":"datum.panel=='price'"}],"mark":{"type":"rect"},
"encoding":{"x":{"field":"from","type":"temporal","scale":{"type":"utc","domain":[1542301272000,1542941532000]}},"x2":{"field":"band"},"y":{"field":"top","type":"quantitative","scale":{"domain":[41.381,46.239]}},"y2":{"field":"bottom"},
"fill":{"field":"label","type":"nominal","scale":{"domain":["LTC/USD (CoinBase)","EMA (55,0)","SMA (200,0)"],"range":["#2e7f6d","#0a35f5","#e8690c"]},"legend":null}}},
{"data":{"name":"tags"},"transform":[{"filter":"datum.panel=='price'"}],"mark":{"type":"text","align":"left","baseline":"middle","fontSize":10.8,"fontWeight":"bold","color":"#f2f2f2"},
"encoding":{"x":{"field":"at","type":"temporal","scale":{"type":"utc","domain":[1542301272000,1542941532000]}},"y":{"field":"mid","type":"quantitative","scale":{"domain":[41.381,46.239]}},"text":{"field":"label"}}},
{"data":{"values":[{"tip":"2018-11-23T03:20Z","p":43.64}]},"mark":{"type":"point","shape":"triangle-left","filled":true,"size":28,"color":"#2b4a73","opacity":1},
"encoding":{"x":{"field":"tip","type":"temporal","scale":{"type":"utc","domain":[1542301272000,1542941532000]}},"y":{"field":"p","type":"quantitative","scale":{"domain":[41.381,46.239]}}}},
{"data":{"values":[{"from":"2018-11-23T03:36Z","to":"2018-11-23T08:48Z","top":43.73,"bottom":43.55}]},"mark":{"type":"rect","color":"#2b4a73","cornerRadius":2},
"encoding":{"x":{"field":"from","type":"temporal","scale":{"type":"utc","domain":[1542301272000,1542941532000]}},"x2":{"field":"to"},"y":{"field":"top","type":"quantitative","scale":{"domain":[41.381,46.239]}},"y2":{"field":"bottom"}}},
{"data":{"values":[{"at":"2018-11-23T06:10Z","p":43.64}]},"mark":{"type":"text","align":"center","baseline":"middle","fontSize":11.5,"fontWeight":"bold","color":"white"},
"encoding":{"x":{"field":"at","type":"temporal","scale":{"type":"utc","domain":[1542301272000,1542941532000]}},"y":{"field":"p","type":"quantitative","scale":{"domain":[41.381,46.239]}},"text":{"field":"p","type":"quantitative","format":".2f"}}}
]
},
{
"width":1198,"height":85,
"layer":[
{"data":{"values":[{"level":70},{"level":30}]},"mark":{"type":"rule","strokeWidth":1.2,"color":"#000000"},
"encoding":{
"y":{"field":"level","type":"quantitative","scale":{"domain":[-1.2,102.4]},"axis":{"orient":"right","values":[0,50],"format":".2f"}}}},
{"data":{"name":"candles"},"mark":{"type":"line","strokeWidth":2.2,"color":"#000000","clip":true},
"encoding":{
"x":{"field":"t","type":"temporal","scale":{"type":"utc","domain":[1542301272000,1542941532000]},"axis":{"labels":false,"ticks":false,"domain":false,"values":[1542326400000,1542412800000,1542499200000,1542585600000,1542672000000,1542758400000,1542844800000,1542931200000]}},
"y":{"field":"rsi","type":"quantitative","scale":{"domain":[-1.2,102.4]}}}},
{"data":{"name":"tags"},"transform":[{"filter":"datum.panel=='rsi'"}],"mark":{"type":"rect","fill":"#404040","opacity":0.8},
"encoding":{"x":{"field":"from","type":"temporal","scale":{"type":"utc","domain":[1542301272000,1542941532000]}},"x2":{"field":"to"},"y":{"field":"top","type":"quantitative","scale":{"domain":[-1.2,102.4]}},"y2":{"field":"bottom"}}},
{"data":{"name":"tags"},"transform":[{"filter":"datum.panel=='rsi'"}],"mark":{"type":"rect","fill":"#000000"},
"encoding":{"x":{"field":"from","type":"temporal","scale":{"type":"utc","domain":[1542301272000,1542941532000]}},"x2":{"field":"band"},"y":{"field":"top","type":"quantitative","scale":{"domain":[-1.2,102.4]}},"y2":{"field":"bottom"}}},
{"data":{"name":"tags"},"transform":[{"filter":"datum.panel=='rsi'"}],"mark":{"type":"text","align":"left","baseline":"middle","fontSize":10.8,"fontWeight":"bold","color":"#f2f2f2"},
"encoding":{"x":{"field":"at","type":"temporal","scale":{"type":"utc","domain":[1542301272000,1542941532000]}},"y":{"field":"mid","type":"quantitative","scale":{"domain":[-1.2,102.4]}},"text":{"field":"label"}}},
{"data":{"name":"grips"},"transform":[{"filter":"datum.panel=='rsi'"}],"mark":{"type":"rule","strokeWidth":1,"color":"#8a8a8a"},
"encoding":{"x":{"field":"from","type":"temporal","scale":{"type":"utc","domain":[1542301272000,1542941532000]}},"x2":{"field":"to"},"y":{"field":"level","type":"quantitative","scale":{"domain":[-1.2,102.4]}}}}
]
},
{
"width":1198,"height":69,
"layer":[
{"data":{"name":"candles"},"mark":{"type":"bar","size":5,"clip":true},
"encoding":{
"x":{"field":"t","type":"temporal","scale":{"type":"utc","domain":[1542301272000,1542941532000]},"axis":{"values":[1542301272000,1542326400000,1542348000000,1542369600000,1542391200000,1542412800000,1542434400000,1542456000000,1542477600000,1542499200000,1542520800000,1542542400000,1542564000000,1542585600000,1542607200000,1542628800000,1542650400000,1542672000000,1542693600000,1542715200000,1542736800000,1542758400000,1542780000000,1542801600000,1542823200000,1542844800000,1542866400000,1542888000000,1542909600000,1542931200000],"labelExpr":"utcdate(datum.value)==15 || utchours(datum.value)==0 ? utcFormat(datum.value,'%a') : utcFormat(datum.value,'%H:%M')","labelFlush":true,"labelOverlap":false,"labelPadding":2,"gridOpacity":{"condition":{"test":"utchours(datum.value)==0","value":1},"value":0}}},
"y":{"field":"hist","type":"quantitative","scale":{"domain":[-0.82,0.268]},"axis":{"orient":"right","values":[0,-0.5],"format":".2f"}},
"y2":{"datum":0},
"color":{"condition":{"test":"datum.hist>=0","value":"#00ff00"},"value":"#ff0000"}}},
{"data":{"name":"macdLines"},"transform":[{"filter":"datum.series=='MACD'"}],"mark":{"type":"line","strokeWidth":1.1,"clip":true,"color":"#1f47f0"},
"encoding":{
"x":{"field":"t","type":"temporal","scale":{"type":"utc","domain":[1542301272000,1542941532000]}},
"y":{"field":"v","type":"quantitative","scale":{"domain":[-0.82,0.268]}}}},
{"data":{"name":"macdLines"},"transform":[{"filter":"datum.series=='Signal'"}],"mark":{"type":"line","strokeWidth":1.1,"clip":true,"interpolate":"monotone","color":"#f0741e"},
"encoding":{
"x":{"field":"t","type":"temporal","scale":{"type":"utc","domain":[1542301272000,1542941532000]}},
"y":{"field":"v","type":"quantitative","scale":{"domain":[-0.82,0.268]}}}},
{"data":{"name":"tags"},"transform":[{"filter":"datum.panel=='macd'"}],"mark":{"type":"rect","fill":"#404040","opacity":0.8},
"encoding":{"x":{"field":"from","type":"temporal","scale":{"type":"utc","domain":[1542301272000,1542941532000]}},"x2":{"field":"to"},"y":{"field":"top","type":"quantitative","scale":{"domain":[-0.82,0.268]}},"y2":{"field":"bottom"}}},
{"data":{"name":"tags"},"transform":[{"filter":"datum.panel=='macd'"}],"mark":{"type":"rect","fill":"#0a35f5"},
"encoding":{"x":{"field":"from","type":"temporal","scale":{"type":"utc","domain":[1542301272000,1542941532000]}},"x2":{"field":"band"},"y":{"field":"top","type":"quantitative","scale":{"domain":[-0.82,0.268]}},"y2":{"field":"bottom"}}},
{"data":{"name":"tags"},"transform":[{"filter":"datum.panel=='macd'"}],"mark":{"type":"text","align":"left","baseline":"middle","fontSize":10.8,"fontWeight":"bold","color":"#f2f2f2"},
"encoding":{"x":{"field":"at","type":"temporal","scale":{"type":"utc","domain":[1542301272000,1542941532000]}},"y":{"field":"mid","type":"quantitative","scale":{"domain":[-0.82,0.268]}},"text":{"field":"label"}}},
{"data":{"name":"grips"},"transform":[{"filter":"datum.panel=='macd'"}],"mark":{"type":"rule","strokeWidth":1,"color":"#8a8a8a"},
"encoding":{"x":{"field":"from","type":"temporal","scale":{"type":"utc","domain":[1542301272000,1542941532000]}},"x2":{"field":"to"},"y":{"field":"level","type":"quantitative","scale":{"domain":[-0.82,0.268]}}}}
]
}
]
}
